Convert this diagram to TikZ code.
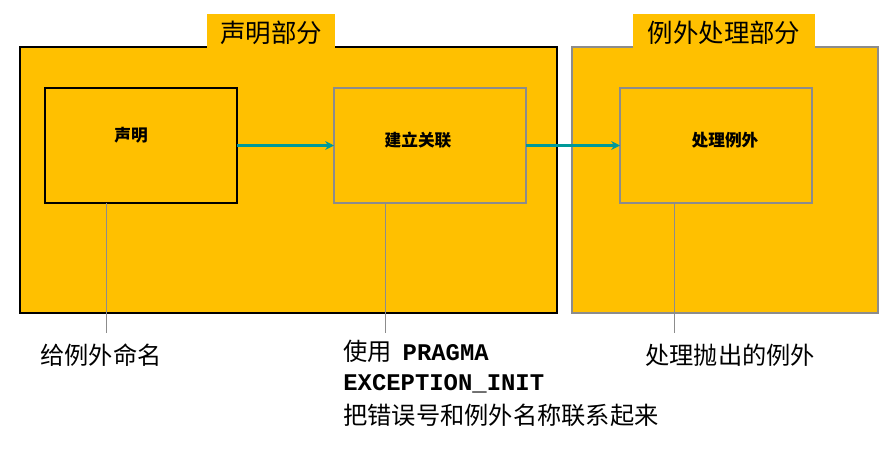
\documentclass[tikz,border=0pt]{standalone}
\usepackage{fontspec}
\setmainfont{Noto Sans CJK SC}
\setmonofont{Liberation Mono}
\usetikzlibrary{arrows.meta,positioning}
\definecolor{secfill}{HTML}{FFC000}
\definecolor{frameg}{HTML}{8C8C8C}
\definecolor{linkc}{HTML}{009999}

\begin{document}
\begin{tikzpicture}[>=Stealth,
        secbox/.style={draw,fill=secfill,line width=1.6pt,outer sep=0pt,
                       minimum width=#1,minimum height=5.32cm},
        titlebox/.style={fill=secfill,inner sep=0pt,minimum height=0.76cm,
                         font=\fontsize{14.5}{16}\selectfont},
        inbox/.style={draw,line width=1.2pt,outer sep=0pt,minimum width=3.84cm,
                      minimum height=2.3cm},
        intext/.style={font=\fontsize{9.5}{11}\selectfont\bfseries,inner sep=0pt},
        note/.style={font=\fontsize{13.8}{17.5}\selectfont,inner sep=0pt,align=left},
        stem/.style={draw=frameg,line width=0.5pt}]
        \useasboundingbox (0,0) rectangle (17.88,-9.08);

        % two sections
        \node[secbox=10.74cm,draw=black] (declpart) at (5.77,-3.6) {};
        \node[secbox=6.12cm,draw=frameg] (excpart) at (14.5,-3.6) {};
        \node[titlebox,minimum width=2.56cm] (decltitle) at (5.42,-0.66) {声明部分};
        \node[titlebox,minimum width=3.64cm] (exctitle) at (14.48,-0.66) {例外处理部分};

        % inner boxes
        \node[inbox,draw=black] (decl) at (2.82,-2.91) {};
        \node[inbox,draw=frameg] (assoc) at (8.6,-2.91) {};
        \node[inbox,draw=frameg] (handle) at (14.32,-2.91) {};
        \node[intext] (decltext) at (2.62,-2.7) {声明};
        \node[intext] (assoctext) at (8.36,-2.8) {建立关联};
        \node[intext] (handletext) at (14.5,-2.8) {处理例外};

        \draw[-{Stealth[length=5pt,width=5pt]},draw=linkc,line width=1.4pt] (decl) -- (assoc);
        \draw[-{Stealth[length=5pt,width=5pt]},draw=linkc,line width=1.4pt] (assoc) -- (handle);

        % notes below
        \node[note,anchor=west] (namenote) at (0.8,-7.1) {给例外命名};
        \node[note,anchor=north west] (pragmanote) at (6.86,-6.8)
            {使用\ \ {\fontsize{13.6}{17.5}\selectfont\ttfamily\bfseries PRAGMA}\\[-0.5pt]
             {\fontsize{13.6}{17.5}\selectfont\ttfamily\bfseries EXCEPTION\_INIT}\\[2pt]
             把错误号和例外名称联系起来};
        \node[note,anchor=west] (raisenote) at (12.9,-7.1) {处理抛出的例外};

        \coordinate (e1) at (2.12,-6.66);
        \coordinate (e2) at (7.7,-6.66);
        \coordinate (e3) at (13.48,-6.66);
        \draw[stem] (e1 |- decl.south) -- (e1);
        \draw[stem] (e2 |- assoc.south) -- (e2);
        \draw[stem] (e3 |- handle.south) -- (e3);
\end{tikzpicture}
\end{document}
